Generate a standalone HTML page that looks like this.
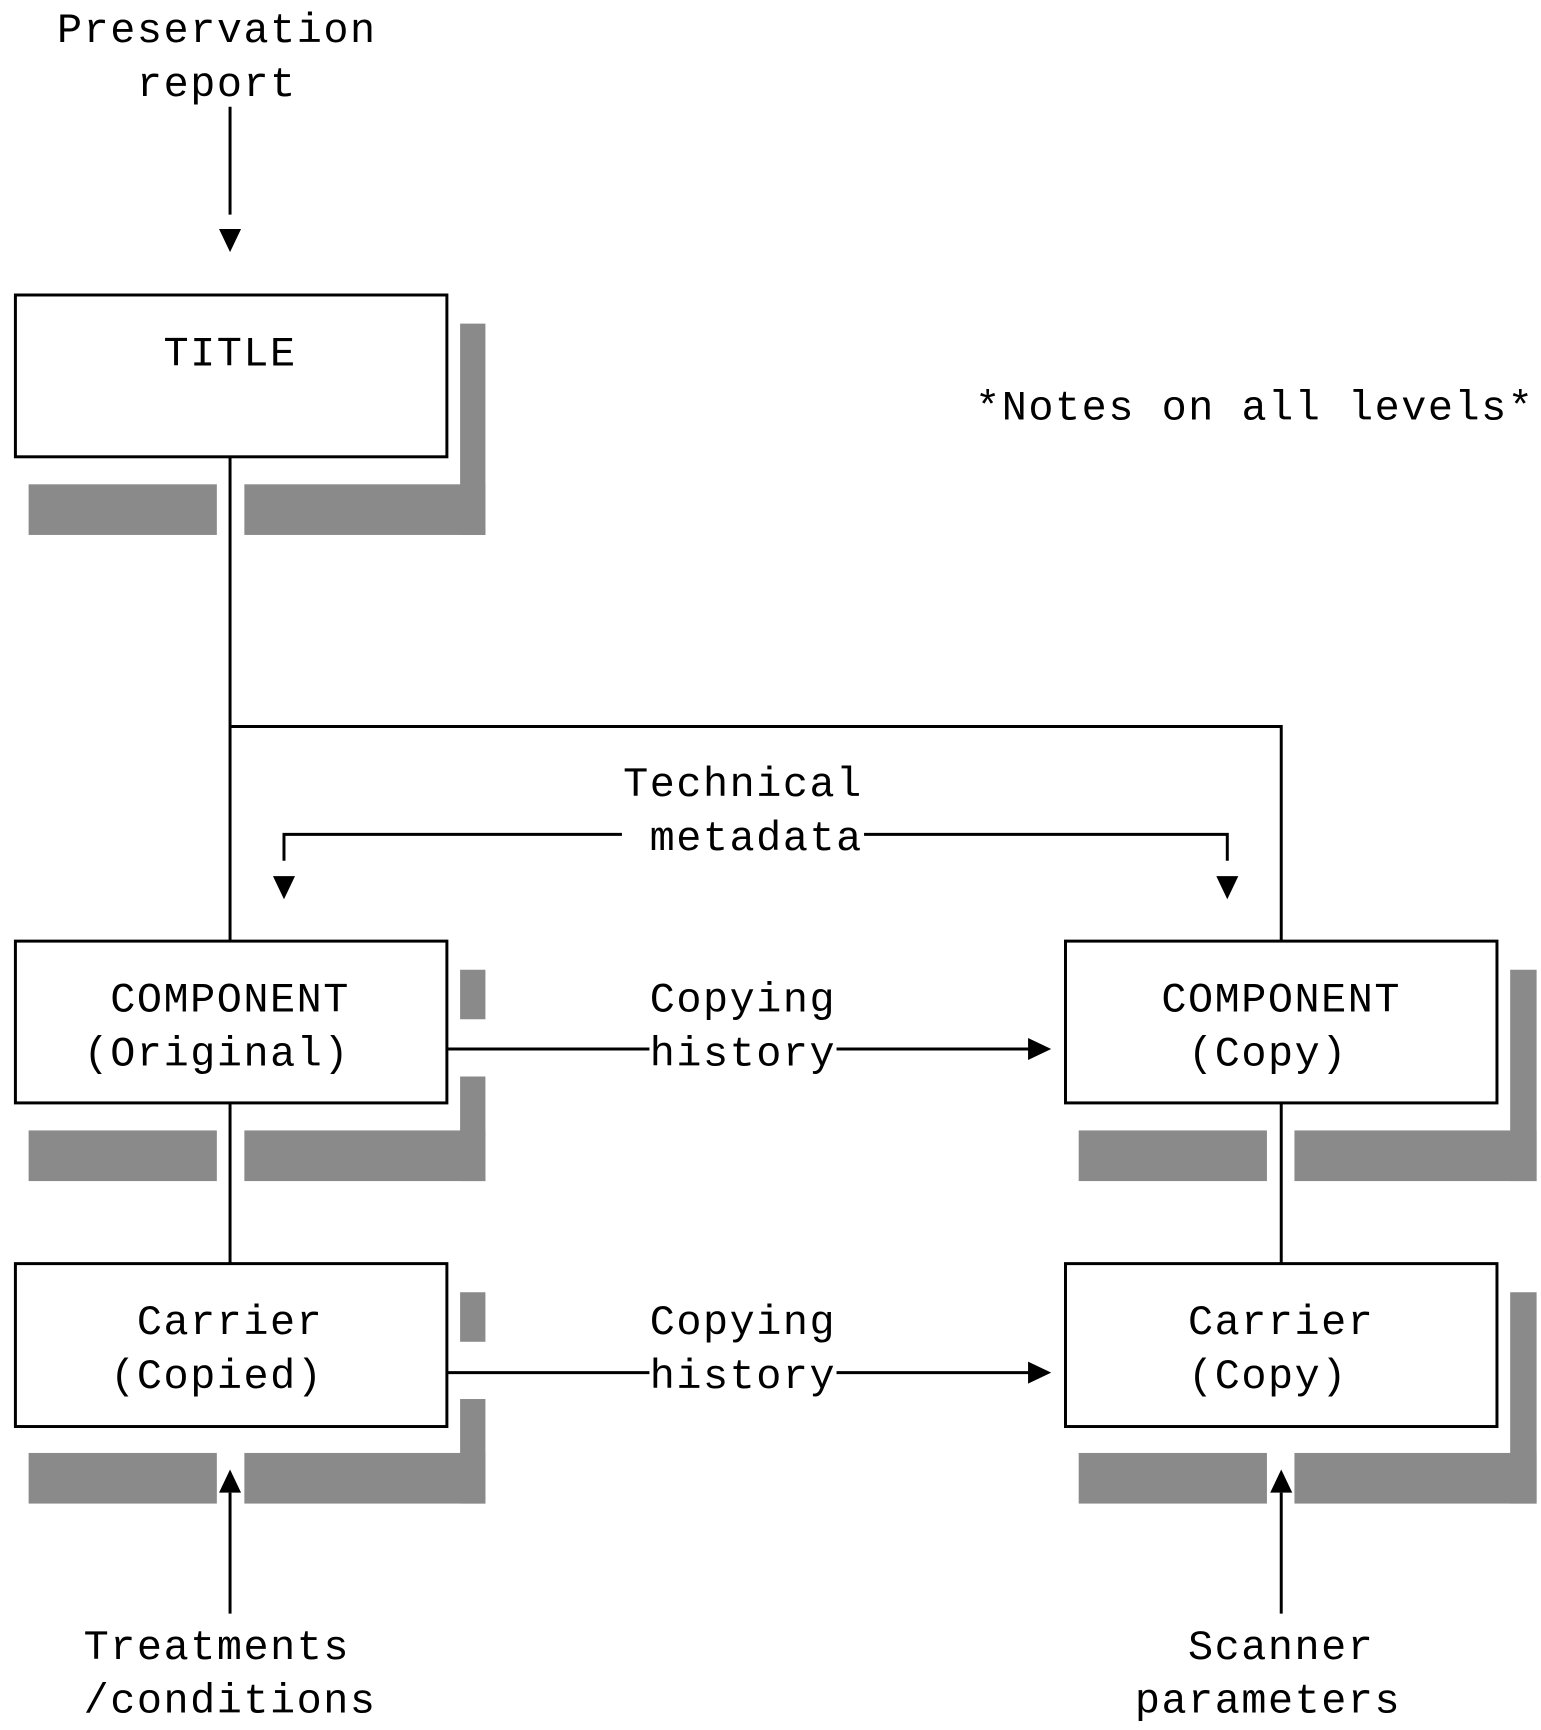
<!DOCTYPE html>
<html><head><meta charset="utf-8"><style>html,body{margin:0;padding:0;background:#fff}svg{display:block}</style></head>
<body>
<svg width="1541" height="1730" viewBox="0 0 1400 1571.7" xmlns="http://www.w3.org/2000/svg">
<g fill="#8a8a8a">
<rect x="418" y="294" width="23" height="192"/><rect x="26" y="440" width="171" height="46"/><rect x="222" y="440" width="219" height="46"/>
<rect x="418" y="881" width="23" height="45"/><rect x="418" y="978" width="23" height="95"/><rect x="26" y="1027" width="171" height="46"/><rect x="222" y="1027" width="219" height="46"/>
<rect x="1372" y="881" width="24" height="192"/><rect x="980" y="1027" width="171" height="46"/><rect x="1176" y="1027" width="220" height="46"/>
<rect x="418" y="1174" width="23" height="45"/><rect x="418" y="1271" width="23" height="95"/><rect x="26" y="1320" width="171" height="46"/><rect x="222" y="1320" width="219" height="46"/>
<rect x="1372" y="1174" width="24" height="192"/><rect x="980" y="1320" width="171" height="46"/><rect x="1176" y="1320" width="220" height="46"/>
</g>
<g fill="#fff" stroke="#000" stroke-width="2.7">
<rect x="14" y="268" width="392" height="147"/>
<rect x="14" y="855" width="392" height="147"/>
<rect x="968" y="855" width="392" height="147"/>
<rect x="14" y="1148" width="392" height="148"/>
<rect x="968" y="1148" width="392" height="148"/>
</g>
<g stroke="#000" stroke-width="2.7" fill="none">
<line x1="209" y1="97" x2="209" y2="195"/>
<line x1="209" y1="415" x2="209" y2="855"/>
<polyline points="209,660 1164,660 1164,855"/>
<polyline points="258,782 258,758 565,758"/>
<polyline points="785,758 1115,758 1115,782"/>
<line x1="209" y1="1002" x2="209" y2="1148"/>
<line x1="1164" y1="1002" x2="1164" y2="1148"/>
<line x1="406" y1="953" x2="590" y2="953"/><line x1="760" y1="953" x2="937" y2="953"/>
<line x1="406" y1="1247" x2="590" y2="1247"/><line x1="760" y1="1247" x2="937" y2="1247"/>
<line x1="209" y1="1356" x2="209" y2="1466"/>
<line x1="1164" y1="1356" x2="1164" y2="1466"/>
</g>
<g fill="#000">
<polygon points="199,208 219,208 209,229"/>
<polygon points="248,796 268,796 258,817"/>
<polygon points="1105,796 1125,796 1115,817"/>
<polygon points="934,943 934,963 955,953"/>
<polygon points="934,1237 934,1257 955,1247"/>
<polygon points="199,1356 219,1356 209,1335"/>
<polygon points="1154,1356 1174,1356 1164,1335"/>
</g>
<g font-family="'Liberation Mono', monospace" font-size="38" letter-spacing="1.4" fill="#000" text-anchor="middle">
<text x="197" y="38">Preservation</text>
<text x="197" y="87">report</text>
<text x="209" y="332">TITLE</text>
<text x="1140" y="381">*Notes on all levels*</text>
<text x="675" y="723">Technical</text>
<text x="687" y="772">metadata</text>
<text x="209" y="919">COMPONENT</text>
<text x="197" y="968">(Original)</text>
<text x="675" y="919">Copying</text>
<text x="675" y="968">history</text>
<text x="1164" y="919">COMPONENT</text>
<text x="1152" y="968">(Copy)</text>
<text x="209" y="1212">Carrier</text>
<text x="197" y="1261">(Copied)</text>
<text x="675" y="1212">Copying</text>
<text x="675" y="1261">history</text>
<text x="1164" y="1212">Carrier</text>
<text x="1152" y="1261">(Copy)</text>
<text x="197" y="1507">Treatments</text>
<text x="209" y="1556">/conditions</text>
<text x="1164" y="1507">Scanner</text>
<text x="1152" y="1556">parameters</text>
</g>
</svg>
</body></html>
